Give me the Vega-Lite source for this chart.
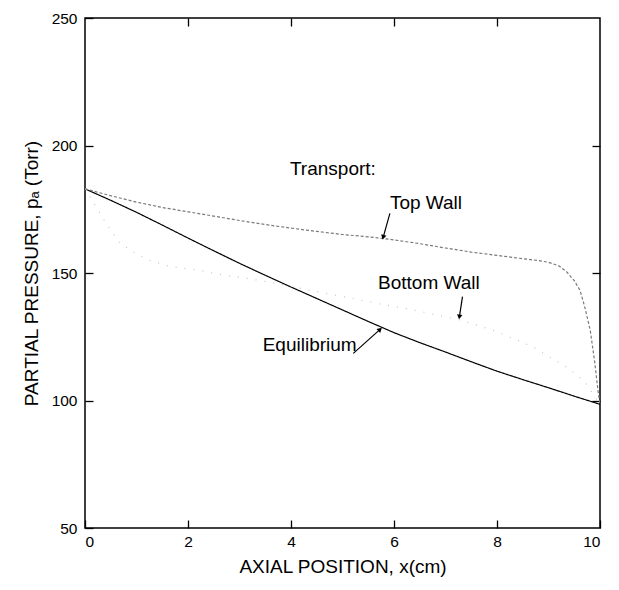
{
  "$schema": "https://vega.github.io/schema/vega-lite/v6.json",
  "width": 515,
  "height": 510,
  "autosize": {"type": "none"},
  "padding": {"left": 85, "top": 18, "right": 19, "bottom": 62},
  "background": "white",
  "config": {
    "font": "Liberation Sans",
    "view": {"stroke": "black", "strokeWidth": 1.5},
    "axis": {
      "grid": false,
      "domain": false,
      "tickColor": "black",
      "tickWidth": 1.3,
      "labelColor": "black",
      "titleColor": "black",
      "labelFont": "Liberation Sans",
      "titleFont": "Liberation Sans",
      "labelFontSize": 15.5,
      "titleFontSize": 19,
      "titleFontWeight": "normal"
    }
  },
  "datasets": {
    "curves": [
      {"series": "Equilibrium", "x": 0, "p": 183},
      {"series": "Equilibrium", "x": 0.5, "p": 178.5},
      {"series": "Equilibrium", "x": 1, "p": 173.8},
      {"series": "Equilibrium", "x": 1.5, "p": 168.8},
      {"series": "Equilibrium", "x": 2, "p": 163.7},
      {"series": "Equilibrium", "x": 2.5, "p": 158.7},
      {"series": "Equilibrium", "x": 3, "p": 153.8},
      {"series": "Equilibrium", "x": 3.5, "p": 149.1},
      {"series": "Equilibrium", "x": 4, "p": 144.5},
      {"series": "Equilibrium", "x": 4.5, "p": 140},
      {"series": "Equilibrium", "x": 5, "p": 135.5},
      {"series": "Equilibrium", "x": 5.5, "p": 131},
      {"series": "Equilibrium", "x": 6, "p": 126.6},
      {"series": "Equilibrium", "x": 6.5, "p": 122.7},
      {"series": "Equilibrium", "x": 7, "p": 119},
      {"series": "Equilibrium", "x": 7.5, "p": 115.2},
      {"series": "Equilibrium", "x": 8, "p": 111.5},
      {"series": "Equilibrium", "x": 8.5, "p": 108.2},
      {"series": "Equilibrium", "x": 9, "p": 105},
      {"series": "Equilibrium", "x": 9.5, "p": 101.7},
      {"series": "Equilibrium", "x": 10, "p": 98.5},
      {"series": "Top Wall", "x": 0, "p": 183},
      {"series": "Top Wall", "x": 0.5, "p": 180.3},
      {"series": "Top Wall", "x": 1, "p": 177.8},
      {"series": "Top Wall", "x": 1.5, "p": 175.7},
      {"series": "Top Wall", "x": 2, "p": 174},
      {"series": "Top Wall", "x": 2.5, "p": 172.3},
      {"series": "Top Wall", "x": 3, "p": 170.6},
      {"series": "Top Wall", "x": 3.5, "p": 169},
      {"series": "Top Wall", "x": 4, "p": 167.6},
      {"series": "Top Wall", "x": 4.5, "p": 166.3},
      {"series": "Top Wall", "x": 5, "p": 165.1},
      {"series": "Top Wall", "x": 5.5, "p": 164.2},
      {"series": "Top Wall", "x": 6, "p": 163},
      {"series": "Top Wall", "x": 6.5, "p": 161.5},
      {"series": "Top Wall", "x": 7, "p": 159.8},
      {"series": "Top Wall", "x": 7.5, "p": 158.2},
      {"series": "Top Wall", "x": 8, "p": 156.9},
      {"series": "Top Wall", "x": 8.5, "p": 155.6},
      {"series": "Top Wall", "x": 8.8, "p": 154.9},
      {"series": "Top Wall", "x": 9, "p": 154.2},
      {"series": "Top Wall", "x": 9.2, "p": 152.8},
      {"series": "Top Wall", "x": 9.35, "p": 150.5},
      {"series": "Top Wall", "x": 9.5, "p": 147},
      {"series": "Top Wall", "x": 9.61, "p": 143.3},
      {"series": "Top Wall", "x": 9.7, "p": 137},
      {"series": "Top Wall", "x": 9.81, "p": 127.6},
      {"series": "Top Wall", "x": 9.9, "p": 114.7},
      {"series": "Top Wall", "x": 9.96, "p": 104},
      {"series": "Top Wall", "x": 10, "p": 98.5},
      {"series": "Bottom Wall", "x": 0, "p": 183},
      {"series": "Bottom Wall", "x": 0.2, "p": 176.5},
      {"series": "Bottom Wall", "x": 0.39, "p": 170.1},
      {"series": "Bottom Wall", "x": 0.68, "p": 161.6},
      {"series": "Bottom Wall", "x": 1, "p": 157.5},
      {"series": "Bottom Wall", "x": 1.23, "p": 155.1},
      {"series": "Bottom Wall", "x": 1.65, "p": 152.5},
      {"series": "Bottom Wall", "x": 2.2, "p": 151.2},
      {"series": "Bottom Wall", "x": 2.56, "p": 149.6},
      {"series": "Bottom Wall", "x": 3.11, "p": 148},
      {"series": "Bottom Wall", "x": 3.7, "p": 146},
      {"series": "Bottom Wall", "x": 4.3, "p": 143.5},
      {"series": "Bottom Wall", "x": 5, "p": 140.8},
      {"series": "Bottom Wall", "x": 5.69, "p": 138},
      {"series": "Bottom Wall", "x": 6.5, "p": 135},
      {"series": "Bottom Wall", "x": 7.3, "p": 131.5},
      {"series": "Bottom Wall", "x": 8, "p": 127},
      {"series": "Bottom Wall", "x": 8.7, "p": 121},
      {"series": "Bottom Wall", "x": 9.36, "p": 113},
      {"series": "Bottom Wall", "x": 9.7, "p": 107.5},
      {"series": "Bottom Wall", "x": 10, "p": 98.5}
    ],
    "labels": [
      {"label": "Transport:", "x": 3.98, "p": 190.8},
      {"label": "Top Wall", "x": 5.92, "p": 177.5},
      {"label": "Bottom Wall", "x": 5.69, "p": 146},
      {"label": "Equilibrium", "x": 3.45, "p": 121.8}
    ],
    "arrows": [
      {"name": "Top Wall", "x": 5.92, "p": 173.4, "x2": 5.79, "p2": 164.0},
      {"name": "Bottom Wall", "x": 7.33, "p": 140.7, "x2": 7.27, "p2": 132.8},
      {"name": "Equilibrium", "x": 5.21, "p": 118.5, "x2": 5.73, "p2": 127.9}
    ]
  },
  "resolve": {"axis": {"x": "independent", "y": "independent"}},
  "layer": [
    {
      "data": {"name": "curves"},
      "mark": {"type": "line", "strokeWidth": 1.2, "clip": true},
      "encoding": {
        "x": {"field": "x", "type": "quantitative", "scale": {"domain": [0, 10], "nice": false},
              "axis": {"title": "AXIAL POSITION, x(cm)", "values": [0, 2, 4, 6, 8, 10], "tickSize": -8, "labelPadding": 14, "titlePadding": 8}},
        "y": {"field": "p", "type": "quantitative", "scale": {"domain": [50, 250], "nice": false},
              "axis": {"title": "PARTIAL PRESSURE, pₐ (Torr)", "values": [50, 100, 150, 200, 250], "tickSize": -8, "labelPadding": 16, "titlePadding": 10}},
        "detail": {"field": "series"},
        "color": {"field": "series", "type": "nominal", "legend": null,
                  "scale": {"domain": ["Equilibrium", "Top Wall", "Bottom Wall"], "range": ["#000000", "#7a7a7a", "#c4c4c4"]}},
        "strokeDash": {"field": "series", "type": "nominal", "legend": null,
                  "scale": {"domain": ["Equilibrium", "Top Wall", "Bottom Wall"], "range": [[1, 0], [3, 2], [1, 8]]}}
      }
    },
    {
      "data": {"name": "curves"},
      "mark": {"type": "point", "opacity": 0},
      "encoding": {
        "x": {"field": "x", "type": "quantitative", "scale": {"domain": [0, 10], "nice": false},
              "axis": {"orient": "top", "title": null, "labels": false, "values": [2, 4, 6, 8], "tickSize": -8}},
        "y": {"field": "p", "type": "quantitative", "scale": {"domain": [50, 250], "nice": false},
              "axis": {"orient": "right", "title": null, "labels": false, "values": [100, 150, 200], "tickSize": -8}}
      }
    },
    {
      "data": {"name": "labels"},
      "mark": {"type": "text", "align": "left", "baseline": "middle", "fontSize": 19, "font": "Liberation Sans", "color": "black"},
      "encoding": {
        "x": {"field": "x", "type": "quantitative", "axis": null},
        "y": {"field": "p", "type": "quantitative", "axis": null},
        "text": {"field": "label"}
      }
    },
    {
      "data": {"name": "arrows"},
      "mark": {"type": "rule", "color": "black", "strokeWidth": 1.2},
      "encoding": {
        "x": {"field": "x", "type": "quantitative", "axis": null},
        "y": {"field": "p", "type": "quantitative", "axis": null},
        "x2": {"field": "x2"},
        "y2": {"field": "p2"}
      }
    },
    {
      "data": {"name": "arrows"},
      "transform": [{"filter": "datum.name == 'Top Wall'"}],
      "mark": {"type": "point", "shape": "triangle-up", "filled": true, "color": "black", "size": 30, "angle": 196, "opacity": 1},
      "encoding": {
        "x": {"field": "x2", "type": "quantitative", "axis": null},
        "y": {"field": "p2", "type": "quantitative", "axis": null}
      }
    },
    {
      "data": {"name": "arrows"},
      "transform": [{"filter": "datum.name == 'Bottom Wall'"}],
      "mark": {"type": "point", "shape": "triangle-up", "filled": true, "color": "black", "size": 30, "angle": 188, "opacity": 1},
      "encoding": {
        "x": {"field": "x2", "type": "quantitative", "axis": null},
        "y": {"field": "p2", "type": "quantitative", "axis": null}
      }
    },
    {
      "data": {"name": "arrows"},
      "transform": [{"filter": "datum.name == 'Equilibrium'"}],
      "mark": {"type": "point", "shape": "triangle-up", "filled": true, "color": "black", "size": 30, "angle": 48, "opacity": 1},
      "encoding": {
        "x": {"field": "x2", "type": "quantitative", "axis": null},
        "y": {"field": "p2", "type": "quantitative", "axis": null}
      }
    }
  ]
}
